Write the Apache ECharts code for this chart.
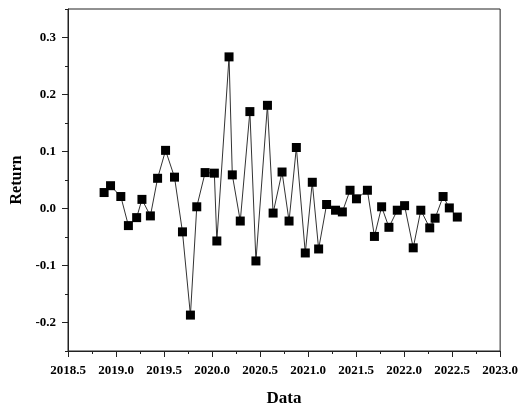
<!DOCTYPE html>
<html>
<head>
<meta charset="utf-8">
<script src="https://cdn.jsdelivr.net/npm/echarts@6/dist/echarts.min.js"></script>
<style>html,body{margin:0;padding:0;background:#fff}#c{width:521px;height:412px}</style>
</head>
<body>
<div id="c"></div>
<script>
var dates = [2018.876, 2018.943, 2019.050, 2019.129, 2019.215, 2019.270, 2019.358, 2019.433, 2019.516, 2019.609,
  2019.692, 2019.775, 2019.841, 2019.928, 2020.024, 2020.050, 2020.177, 2020.211, 2020.294, 2020.394,
  2020.457, 2020.577, 2020.636, 2020.729, 2020.802, 2020.878, 2020.971, 2021.044, 2021.110, 2021.193,
  2021.286, 2021.357, 2021.437, 2021.504, 2021.618, 2021.691, 2021.766, 2021.842, 2021.929, 2022.005,
  2022.095, 2022.174, 2022.267, 2022.323, 2022.406, 2022.471, 2022.554];
var returns = [0.028, 0.040, 0.021, -0.030, -0.016, 0.016, -0.013, 0.053, 0.102, 0.055,
  -0.041, -0.187, 0.003, 0.063, 0.062, -0.057, 0.266, 0.059, -0.022, 0.170,
  -0.092, 0.181, -0.008, 0.064, -0.022, 0.107, -0.078, 0.046, -0.071, 0.007,
  -0.003, -0.006, 0.032, 0.017, 0.032, -0.049, 0.003, -0.033, -0.003, 0.005,
  -0.069, -0.003, -0.034, -0.017, 0.021, 0.001, -0.015];
var yMajor = [-0.2, -0.1, 0.0, 0.1, 0.2, 0.3];
var yMinor = [-0.25, -0.15, -0.05, 0.05, 0.15, 0.25, 0.35];

var pts = dates.map(function (d, i) { return [d, returns[i]]; });
var font = 'Liberation Serif';
var chart = echarts.init(document.getElementById('c'));
chart.setOption({
  animation: false,
  backgroundColor: '#fff',
  grid: { left: 68, right: 19, top: 9, bottom: 55, show: true, borderColor: '#222', borderWidth: 1 },
  xAxis: {
    type: 'value', min: 2018.5, max: 2023.0, interval: 0.5,
    name: 'Data', nameLocation: 'middle', nameGap: 39,
    nameTextStyle: { fontFamily: font, fontSize: 17, fontWeight: 'bold', color: '#000' },
    axisLine: { show: true, onZero: false, lineStyle: { color: '#222', width: 1 } },
    axisTick: { show: true, inside: false, length: 6, lineStyle: { color: '#222' } },
    minorTick: { show: true, splitNumber: 2, length: 3, lineStyle: { color: '#222' } },
    splitLine: { show: false },
    axisLabel: { margin: 13, fontFamily: font, fontSize: 13, fontWeight: 'bold', color: '#000',
      formatter: function (v) { return v.toFixed(1); } }
  },
  yAxis: [{
    type: 'value', min: -0.25, max: 0.35, interval: 0.05, position: 'left',
    name: 'Return', nameLocation: 'middle', nameGap: 42, nameRotate: 90,
    nameTextStyle: { fontFamily: font, fontSize: 16, fontWeight: 'bold', color: '#000' },
    axisLine: { show: true, onZero: false, lineStyle: { color: '#222', width: 1 } },
    axisTick: { show: true, inside: false, length: 6, customValues: yMajor, lineStyle: { color: '#222' } },
    splitLine: { show: false },
    axisLabel: { margin: 12, fontFamily: font, fontSize: 13, fontWeight: 'bold', color: '#000',
      customValues: yMajor,
      formatter: function (v) { return v.toFixed(1); } }
  }, {
    type: 'value', min: -0.25, max: 0.35, interval: 0.05, position: 'left', offset: 0,
    axisLine: { show: false },
    axisTick: { show: true, inside: false, length: 3, customValues: yMinor, lineStyle: { color: '#222' } },
    splitLine: { show: false },
    axisLabel: { show: false }
  }],
  series: [{
    type: 'line', data: pts, yAxisIndex: 0,
    symbol: 'rect', symbolSize: 9, showSymbol: true,
    lineStyle: { color: '#333', width: 1 },
    itemStyle: { color: '#000' }
  }]
});
</script>
</body>
</html>
